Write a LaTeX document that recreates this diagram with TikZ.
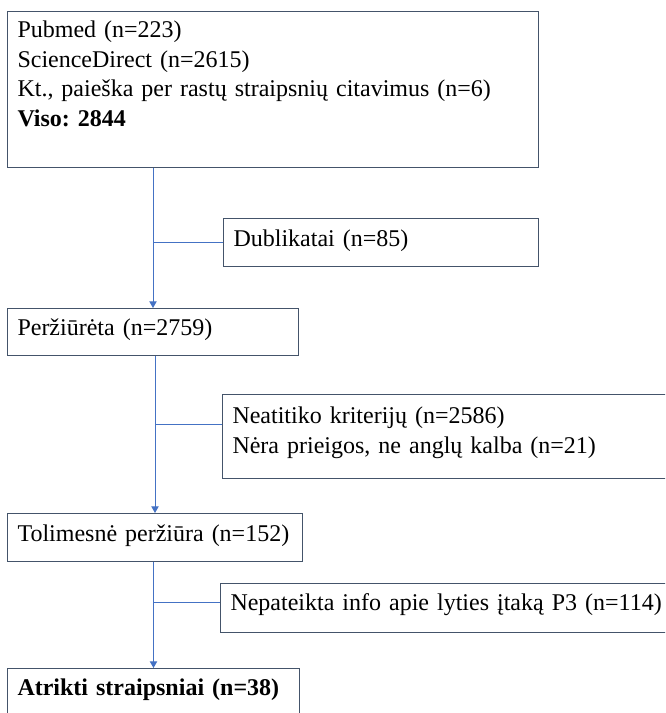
\documentclass[tikz,border=0pt]{standalone}
\usepackage{fontspec}
\setmainfont{Liberation Serif}
\usepackage{xcolor}
\usepackage{tikz}
\usetikzlibrary{positioning,calc,arrows.meta}
\definecolor{flowblue}{HTML}{4472C4}
\definecolor{boxgray}{HTML}{44546A}
\frenchspacing

\begin{document}
\begin{tikzpicture}[x=0.75pt, y=-0.75pt, ->, >={Triangle[length=5pt, width=5.5pt]}, box/.style = {rectangle, draw=boxgray, line width=0.75pt, anchor=north west, align=left, inner xsep=7.5pt, inner ysep=0pt, font=\fontsize{18pt}{22.3pt}\selectfont}, every edge/.append style={draw=flowblue, line width=0.75pt}]

\useasboundingbox (0,0) rectangle (665,713);
\clip (0,0) rectangle (665,713);

\path (7,11) node[box, text width=383.25pt, text height=19.5pt, text depth=97.5pt] (src) {Pubmed (n=223)\\ScienceDirect (n=2615)\\Kt., paieška per rastų straipsnių citavimus (n=6)\\\textbf{Viso: 2844}};
\path (223,218) node[box, text width=221.25pt, text height=21pt, text depth=15pt] (dup) {Dublikatai (n=85)};
\path (7,308) node[box, text width=203.25pt, text height=20.25pt, text depth=15pt] (screened) {Peržiūrėta (n=2759)};
\path (222,394) node[box, text width=358.5pt, text height=21.75pt, text depth=41.25pt] (excl1) {Neatitiko kriterijų (n=2586)\\Nėra prieigos, ne anglų kalba (n=21)};
\path (7,513) node[box, text width=206.25pt, text height=21pt, text depth=15pt] (further) {Tolimesnė peržiūra (n=152)};
\path (220,583) node[box, text width=360pt, text height=20.25pt, text depth=16.5pt] (excl2) {Nepateikta info apie lyties įtaką P3 (n=114)};
\path (7,668) node[box, text width=204pt, text height=20.25pt, text depth=33.75pt] (final) {\textbf{Atrikti straipsniai (n=38)}};

\coordinate (cut1) at ($(excl1.north west)+(0,30)$);
\coordinate (cut2) at ($(excl2.north west)+(0,19)$);

\path
 (src.south -| screened.north) edge (screened.north)
 (screened.south -| further.north) edge (further.north)
 (further.south -| final.north) edge (final.north)
 (dup.west) edge[-] (dup.west -| screened.north)
 (cut1) edge[-] (cut1 -| further.north)
 (cut2) edge[-] (cut2 -| final.north);
\end{tikzpicture}
\end{document}
